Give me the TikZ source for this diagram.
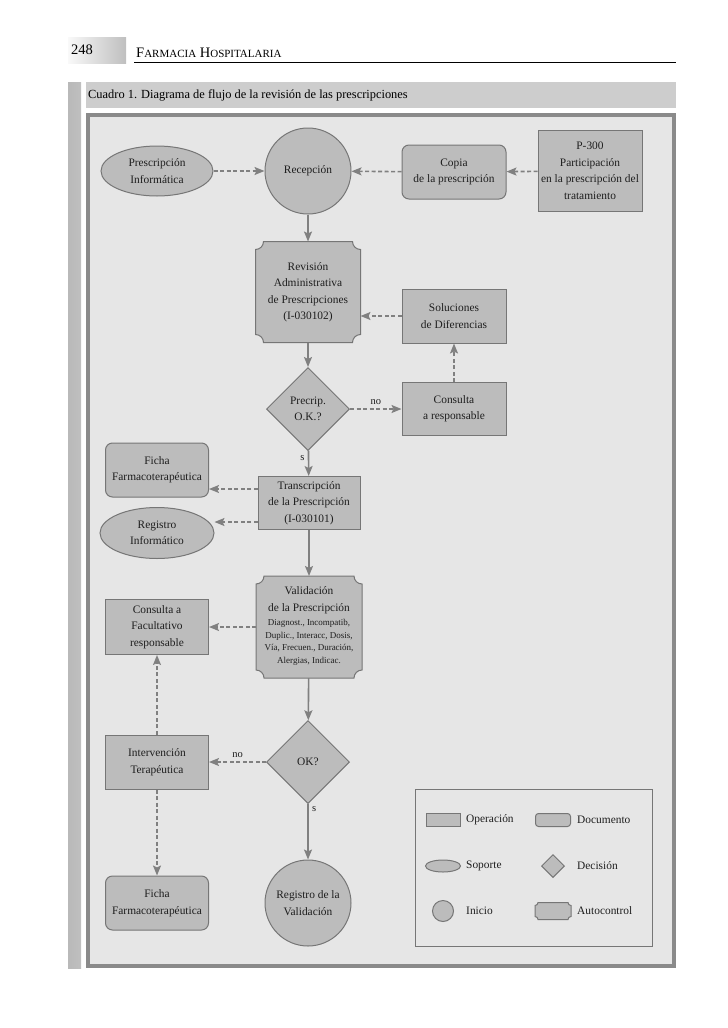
\documentclass[tikz,border=0pt]{standalone}
\usepackage{fontspec}
\setmainfont{Liberation Serif}
\usetikzlibrary{arrows.meta,positioning,calc,shapes.geometric}

\definecolor{boxgray}{RGB}{188,188,188}
\definecolor{linegray}{RGB}{118,118,118}
\definecolor{arrowgray}{RGB}{128,128,128}
\definecolor{panelgray}{RGB}{230,230,230}
\definecolor{capgray}{RGB}{205,205,205}
\definecolor{framegray}{RGB}{138,138,138}
\definecolor{inkgray}{RGB}{30,30,30}

\pgfdeclarelayer{paper}
\pgfdeclarelayer{shapes}
\pgfsetlayers{paper,shapes,main}

\tikzset{
  base/.style={draw=linegray, fill=boxgray, line width=1pt, text=inkgray,
    align=center, font=\fontsize{11.4}{16.5}\selectfont, inner sep=2pt},
  operation/.style={base, rectangle},
  document/.style={base, rectangle, rounded corners=7pt},
  support/.style={base, ellipse},
  start/.style={base, circle},
  decision/.style={base, diamond, inner sep=0pt},
  autoctl/.style={base, draw=none, fill=none},
  flow/.style={draw=arrowgray, line width=1.6pt,
    -{Stealth[length=10pt,width=8pt,inset=2pt]}},
  dflow/.style={flow, dash pattern=on 4pt off 2.5pt},
  lbl/.style={text=inkgray, font=\fontsize{10.5}{12}\selectfont},
  keytext/.style={anchor=west, text=inkgray, font=\fontsize{11.4}{13}\selectfont, inner sep=0pt},
}

% outline of an autocontrol box: rectangle with hollowed corners
\newcommand{\autoframe}[2]{%
  \begin{pgfonlayer}{shapes}
    \draw[draw=linegray, fill=boxgray, line width=1pt]
      ($(#1.north west)+(#2,0pt)$) -- ($(#1.north east)+(-#2,0pt)$)
      arc[start angle=180, end angle=270, radius=#2]
      -- ($(#1.south east)+(0pt,#2)$)
      arc[start angle=90, end angle=180, radius=#2]
      -- ($(#1.south west)+(#2,0pt)$)
      arc[start angle=0, end angle=90, radius=#2]
      -- ($(#1.north west)+(0pt,-#2)$)
      arc[start angle=270, end angle=360, radius=#2]
      -- cycle;
  \end{pgfonlayer}}

\begin{document}
\begin{tikzpicture}[x=1pt,y=-1pt]
        \useasboundingbox (0,0) rectangle (728,1028);

        % Page head and frame
        \begin{pgfonlayer}{paper}
          \shade[left color=gray!5, right color=gray!50] (68,37) rectangle (126,63);
          \draw[line width=0.8pt] (134,62) -- (676,62);
          \shade[left color=gray!55, middle color=gray!22, right color=gray!50] (68,82) rectangle (81,968);
          \fill[capgray] (86,82) rectangle (676,108);
          \draw[framegray, line width=3.5pt, fill=panelgray] (88,115) rectangle (674,966);
        \end{pgfonlayer}
        \node[anchor=west, inner sep=0pt] (pagenum) at (71,50) {\fontsize{14.5}{14}\selectfont 248};
        \node[anchor=base west, inner sep=0pt] (runhead) at (136,57)
          {\fontsize{14.5}{14}\selectfont F{\fontsize{11}{12}\selectfont ARMACIA} H{\fontsize{11}{12}\selectfont OSPITALARIA}};
        \node[anchor=west, inner sep=0pt] (caption) at (88,95)
          {\fontsize{12.4}{14}\selectfont Cuadro 1. Diagrama de flujo de la revisión de las prescripciones};

        % Top row
        \node[support, minimum width=112, minimum height=50] (presinf) at (157,171) {Prescripción\\Informática};
        \node[start, minimum size=86] (recep) at (308,171) {Recepción};
        \node[document, minimum width=104, minimum height=54] (copia) at (454,172) {Copia\\de la prescripción};
        \node[operation, minimum width=104, minimum height=81] (p300) at (590,171)
          {P-300\\Participación\\en la prescripción del\\tratamiento};

        % Middle column
        \node[autoctl, minimum width=104, minimum height=100] (revision) at (308,292)
          {Revisión\\Administrativa\\de Prescripciones\\(I-030102)};
        \autoframe{revision}{8pt}
        \node[decision, minimum width=83, minimum height=83] (precrip) at (308,409) {Precrip.\\O.K.?};
        \node[operation, minimum width=102, minimum height=53] (transc) at (309,503)
          {Transcripción\\de la Prescripción\\(I-030101)};
        \node[autoctl, minimum width=105, minimum height=101] (valid) at (309,627)
          {Validación\\de la Prescripción\\[-2pt]{\fontsize{9}{12.7}\selectfont\begin{tabular}[t]{@{}c@{}}Diagnost., Incompatib,\\Duplic., Interacc, Dosis,\\Vía, Frecuen., Duración,\\Alergias, Indicac.\end{tabular}}};
        \autoframe{valid}{8pt}
        \node[decision, minimum width=83, minimum height=83] (ok) at (308,762) {OK?};
        \node[start, minimum size=86] (regval) at (308,903) {Registro de la\\Validación};

        % Right column
        \node[operation, minimum width=104, minimum height=54] (soluc) at (454,316) {Soluciones\\de Diferencias};
        \node[operation, minimum width=104, minimum height=53] (consulta) at (454,409) {Consulta\\a responsable};

        % Left column
        \node[document, minimum width=103, minimum height=54] (ficha1) at (157,470) {Ficha\\Farmacoterapéutica};
        \node[support, minimum width=114, minimum height=51] (reginf) at (157,533) {Registro\\Informático};
        \node[operation, minimum width=103, minimum height=55] (consfac) at (157,627) {Consulta a\\Facultativo\\responsable};
        \node[operation, minimum width=103, minimum height=54] (interv) at (157,762) {Intervención\\Terapéutica};
        \node[document, minimum width=103, minimum height=54] (ficha2) at (157,903) {Ficha\\Farmacoterapéutica};

        % Arcs of the top row
        \draw[dflow] (presinf) -- (recep);
        \draw[dflow] (copia) -- (recep);
        \draw[dflow] (p300) -- (copia);

        % Main flow
        \draw[flow] (recep) -- (revision);
        \draw[flow] (revision) -- (precrip);
        \draw[flow] (precrip) -- node[lbl, left, pos=0.3] {s} (transc);
        \draw[flow] (transc) -- (valid);
        \draw[flow] (valid) -- (ok);
        \draw[flow] (ok) -- node[lbl, right, pos=0.1] {s} (regval);

        % Side arcs
        \draw[dflow] (precrip) -- node[lbl, above] {no} (consulta);
        \draw[dflow] (consulta) -- (soluc);
        \draw[dflow] (soluc.west) -- (soluc.west -| revision.east);
        \coordinate (trup) at ([yshift=14pt]transc.west);
        \coordinate (trdown) at ([yshift=-19pt]transc.west);
        \draw[dflow] (trup) -- (trup -| ficha1.east);
        \draw[dflow] (trdown) -- (trdown -| reginf.east);
        \draw[dflow] (valid.west |- consfac) -- (consfac);
        \draw[dflow] (ok) -- node[lbl, above] {no} (interv);
        \draw[dflow] (interv) -- (consfac);
        \draw[dflow] (interv) -- (ficha2);

        % Key
        \draw[draw=linegray, line width=0.8pt] (415,789) rectangle (652,946);
        \node[operation, minimum width=34, minimum height=13, inner sep=0pt] (keyop) at (443,820) {};
        \node[keytext] (keyoptext) at (466,820) {Operación};
        \node[document, rounded corners=3pt, minimum width=35, minimum height=13, inner sep=0pt] (keydoc) at (553,820) {};
        \node[keytext] (keydoctext) at (577,820) {Documento};
        \node[support, minimum width=35, minimum height=12, inner sep=0pt] (keysup) at (443,866) {};
        \node[keytext] (keysuptext) at (466,866) {Soporte};
        \node[decision, minimum width=23, minimum height=23] (keydec) at (553,866) {};
        \node[keytext] (keydectext) at (577,866) {Decisión};
        \node[start, minimum size=21, inner sep=0pt] (keyini) at (443,911) {};
        \node[keytext] (keyinitext) at (466,911) {Inicio};
        \node[autoctl, minimum width=35, minimum height=16, inner sep=0pt] (keyauto) at (553,911) {};
        \autoframe{keyauto}{3pt}
        \node[keytext] (keyautotext) at (577,911) {Autocontrol};
\end{tikzpicture}
\end{document}
